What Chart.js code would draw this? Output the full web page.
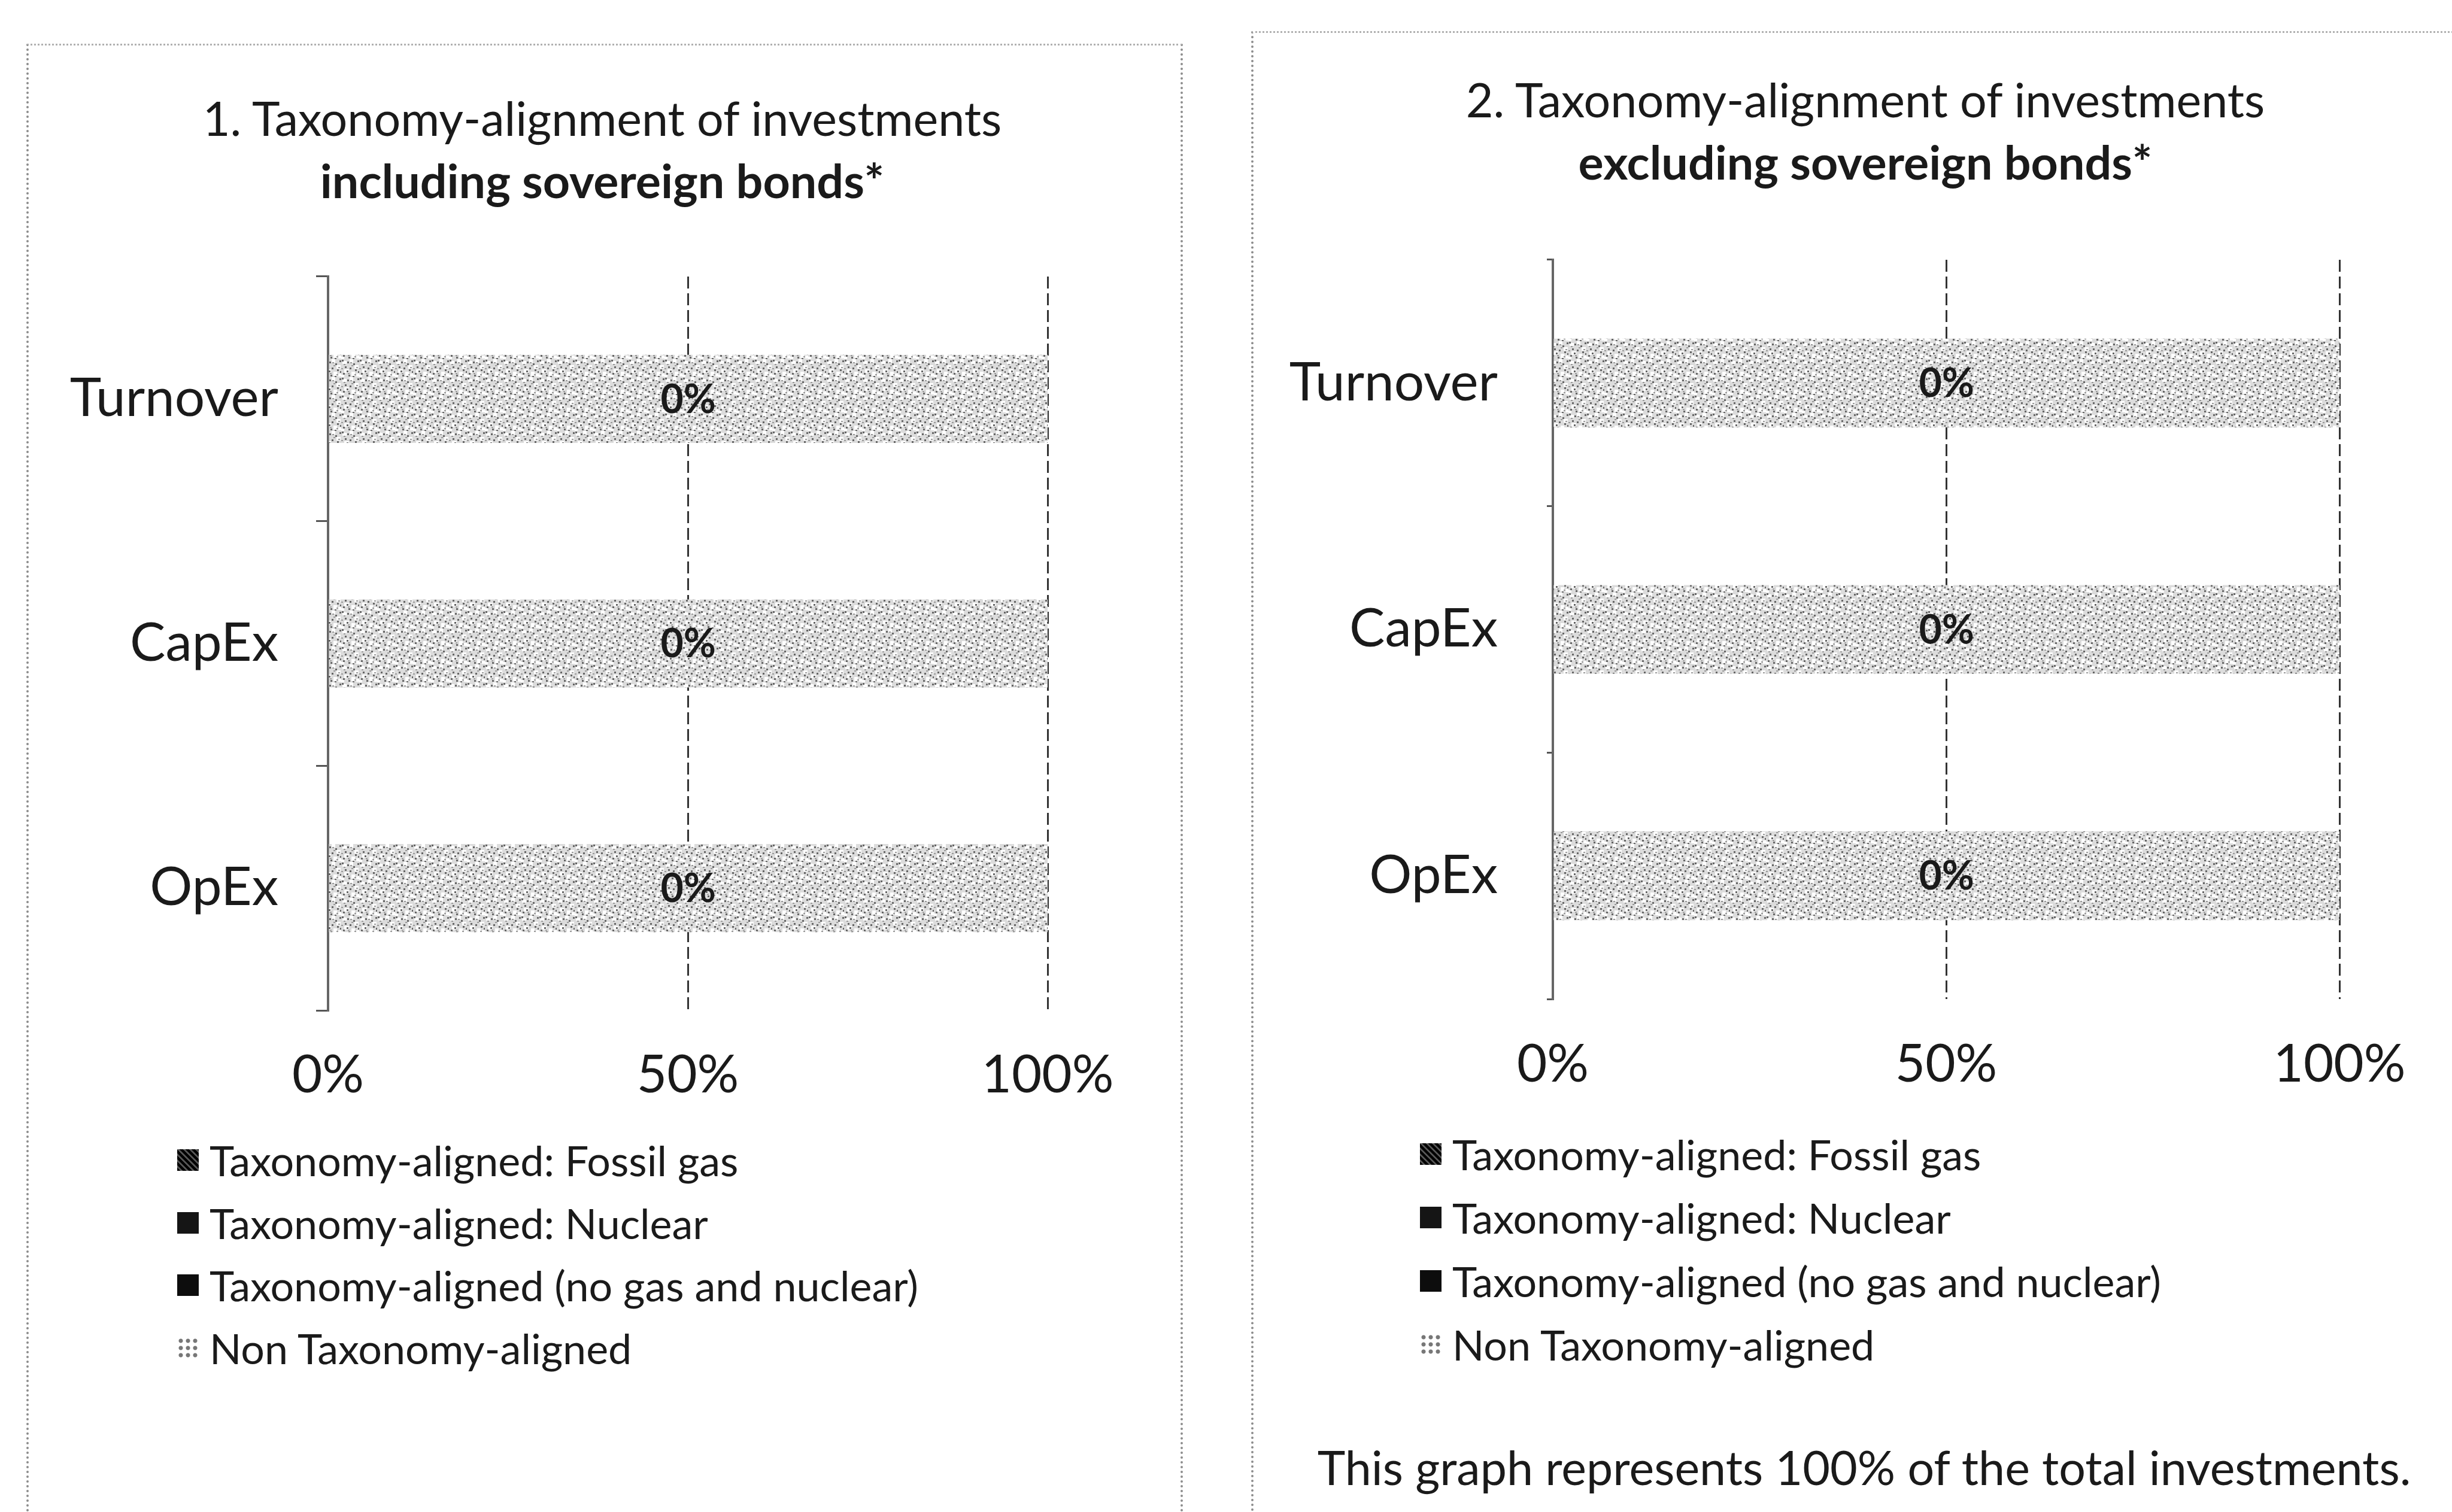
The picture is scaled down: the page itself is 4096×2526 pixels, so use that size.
<!DOCTYPE html>
<html>
<head>
<meta charset="utf-8">
<script src="https://cdn.jsdelivr.net/npm/chart.js@4.4.1/dist/chart.umd.min.js"></script>
<style>
  html, body { margin: 0; padding: 0; background: #fff; }
  body { width: 4096px; height: 2526px; position: relative; overflow: hidden; font-family: Lato, "Open Sans", sans-serif; color: #1a1a1a; }
  .panel { position: absolute; border-left: 4px dotted #8c8c8c; border-top: 3px dotted #b0b0b0; }
  .title { position: absolute; transform: translate(-50%, -50%); white-space: nowrap; line-height: 1; font-size: 79px; }
  .title.bold { font-weight: bold; }
  .legend-row { position: absolute; white-space: nowrap; font-size: 70px; line-height: 1; transform: translateY(-50%); display: flex; align-items: center; }
  .legend-row .box { width: 36px; height: 36px; margin-right: 18px; flex: none; }
  .footer { position: absolute; transform: translate(-50%, -50%); white-space: nowrap; font-size: 79px; line-height: 1; }
</style>
</head>
<body>
<div class="panel" id="p1" style="left:44px; top:73px; width:1924px; height:2460px; border-right:4px dotted #8c8c8c;"></div>
<div class="panel" id="p2" style="left:2090px; top:52px; width:2010px; height:2480px;"></div>
<canvas id="chart1" width="2000" height="1900" style="position:absolute; left:0; top:0;"></canvas>
<canvas id="chart2" width="2046" height="1900" style="position:absolute; left:2050px; top:0;"></canvas>

<script>
// Categories and series
const categories = ['Turnover', 'CapEx', 'OpEx'];
const seriesNames = [
    'Taxonomy-aligned: Fossil gas',
    'Taxonomy-aligned: Nuclear',
    'Taxonomy-aligned (no gas and nuclear)',
    'Non Taxonomy-aligned'
];

// 1. including sovereign bonds
const fossilGasIncl = [0, 0, 0];
const nuclearIncl = [0, 0, 0];
const alignedIncl = [0, 0, 0];
const nonAlignedIncl = [100, 100, 100];

// 2. excluding sovereign bonds
const fossilGasExcl = [0, 0, 0];
const nuclearExcl = [0, 0, 0];
const alignedExcl = [0, 0, 0];
const nonAlignedExcl = [100, 100, 100];

// x axis ticks
const tickValues = [0, 50, 100];
const tickLabels = ['0%', '50%', '100%'];

const titles1 = ['1. Taxonomy-alignment of investments', 'including sovereign bonds*'];
const titles2 = ['2. Taxonomy-alignment of investments', 'excluding sovereign bonds*'];
const footerText = 'This graph represents 100% of the total investments.';

const FONT = 'Lato, "Open Sans", sans-serif';

// speckled grey fill used for the non-aligned bars
function speckle() {
    const c = document.createElement('canvas');
    c.width = 30; c.height = 30;
    const g = c.getContext('2d');
    g.fillStyle = '#dcdcdc';
    g.fillRect(0, 0, 30, 30);
    g.fillStyle = '#ffffff';
    [[2, 3, 7, 5], [14, 0, 6, 6], [22, 10, 7, 6], [5, 17, 8, 6], [17, 21, 6, 7], [0, 26, 5, 4], [25, 24, 5, 5]]
        .forEach(r => g.fillRect(r[0], r[1], r[2], r[3]));
    g.fillStyle = '#666';
    [[1, 1], [10, 4], [20, 7], [27, 2], [6, 12], [14, 14], [23, 17], [3, 23], [12, 26], [19, 28], [28, 20], [9, 19]]
        .forEach(p => g.fillRect(p[0], p[1], 3, 3));
    g.fillStyle = '#9a9a9a';
    [[4, 8], [17, 10], [25, 13], [11, 23], [22, 25], [0, 15], [15, 5]]
        .forEach(p => g.fillRect(p[0], p[1], 3, 2));
    return g.createPattern(c, 'repeat');
}

function hatch() {
    const c = document.createElement('canvas');
    c.width = 8; c.height = 8;
    const g = c.getContext('2d');
    g.fillStyle = '#333';
    g.fillRect(0, 0, 8, 8);
    g.strokeStyle = '#000';
    g.lineWidth = 3;
    g.beginPath(); g.moveTo(0, 8); g.lineTo(8, 0); g.stroke();
    return g.createPattern(c, 'repeat');
}

// "0%" label in the middle of each bar = total aligned share
const alignedLabel = {
    id: 'alignedLabel',
    afterDatasetsDraw(chart) {
        const ds = chart.data.datasets;
        const meta = chart.getDatasetMeta(ds.length - 1);
        const ctx = chart.ctx;
        ctx.save();
        ctx.font = 'bold 66px ' + FONT;
        ctx.fillStyle = '#1a1a1a';
        ctx.textAlign = 'center';
        ctx.textBaseline = 'middle';
        meta.data.forEach((el, i) => {
            const share = ds[0].data[i] + ds[1].data[i] + ds[2].data[i];
            ctx.fillText(share + '%', (el.x + el.base) / 2, el.y + 2);
        });
        ctx.restore();
    }
};

function makeChart(id, series, geom) {
    const canvas = document.getElementById(id);
    const fills = [hatch(), '#1a1a1a', '#0d0d0d', speckle()];
    return new Chart(canvas.getContext('2d'), {
        type: 'bar',
        data: {
            labels: categories,
            datasets: series.map((d, i) => ({
                label: seriesNames[i],
                data: d,
                backgroundColor: fills[i],
                borderWidth: 0,
                barPercentage: 0.6,
                categoryPercentage: 0.6
            }))
        },
        options: {
            indexAxis: 'y',
            responsive: false,
            animation: false,
            devicePixelRatio: 1,
            layout: { padding: { top: geom.top, right: geom.right, left: 0, bottom: 0 } },
            plugins: { legend: { display: false }, tooltip: { enabled: false } },
            scales: {
                x: {
                    stacked: true,
                    min: 0,
                    max: 100,
                    afterBuildTicks: s => { s.ticks = tickValues.map(v => ({ value: v })); },
                    afterFit: s => { s.height = geom.xAxisH; },
                    ticks: {
                        callback: (v) => tickLabels[tickValues.indexOf(v)],
                        font: { family: FONT, size: 87 },
                        color: '#1a1a1a',
                        padding: geom.xPad,
                        maxRotation: 0
                    },
                    grid: { color: '#333', lineWidth: 3, drawTicks: false },
                    border: { display: false, dash: [20, 8] }
                },
                y: {
                    stacked: true,
                    afterFit: s => { s.width = geom.yAxisW; },
                    ticks: {
                        font: { family: FONT, size: 89 },
                        color: '#1a1a1a',
                        padding: geom.yPad
                    },
                    grid: { drawOnChartArea: false, drawTicks: geom.tick > 0, tickLength: geom.tick, color: '#555', lineWidth: 3 },
                    border: { display: true, color: '#666', width: 4 }
                }
            }
        },
        plugins: [alignedLabel]
    });
}

makeChart('chart1', [fossilGasIncl, nuclearIncl, alignedIncl, nonAlignedIncl],
    { top: 462, right: 250, yAxisW: 548, xAxisH: 212, xPad: 57, yPad: 63, tick: 20 });
makeChart('chart2', [fossilGasExcl, nuclearExcl, alignedExcl, nonAlignedExcl],
    { top: 434, right: 188, yAxisW: 544, xAxisH: 231, xPad: 58, yPad: 82, tick: 10 });

// titles, legends and footer
function addText(cls, text, x, y) {
    const d = document.createElement('div');
    d.className = cls;
    d.textContent = text;
    d.style.left = x + 'px';
    d.style.top = y + 'px';
    document.body.appendChild(d);
    return d;
}

addText('title', titles1[0], 1006, 196);
addText('title bold', titles1[1], 1006, 300);
addText('title', titles2[0], 3116, 165);
addText('title bold', titles2[1], 3116, 269);

const markerStyles = [
    'background: repeating-linear-gradient(45deg, #000 0 4px, #555 4px 7px);',
    'background: #151515;',
    'background: #0d0d0d;',
    'background: radial-gradient(circle, #777 0 3px, transparent 4px) 0 0 / 12px 12px, #fff;'
];

function addLegend(x, y, step) {
    seriesNames.forEach((name, i) => {
        const row = document.createElement('div');
        row.className = 'legend-row';
        row.style.left = x + 'px';
        row.style.top = (y + i * step) + 'px';
        const box = document.createElement('span');
        box.className = 'box';
        box.style.cssText = markerStyles[i];
        const t = document.createElement('span');
        t.textContent = name;
        row.appendChild(box);
        row.appendChild(t);
        document.body.appendChild(row);
    });
}

addLegend(296, 1938, 104.7);
addLegend(2372, 1928, 106);

addText('footer', footerText, 3114, 2450);
</script>
</body>
</html>
